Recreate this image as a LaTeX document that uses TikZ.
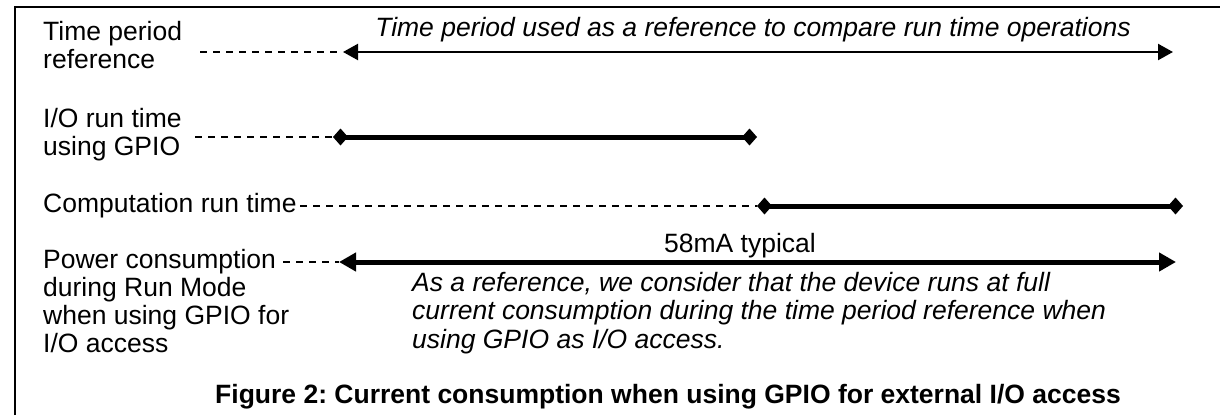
\documentclass[tikz,border=0pt]{standalone}
\usepackage{fontspec}
\setmainfont{Liberation Sans}
\usetikzlibrary{arrows.meta}
\frenchspacing

\tikzset{
  lbl/.style={anchor=west, align=left, inner sep=0pt,
    font=\fontsize{26.5}{28.2}\selectfont},
  note/.style={lbl, font=\fontsize{26.5}{28.2}\selectfont\itshape},
  guide/.style={line width=1.3pt, dash pattern=on 7pt off 6pt},
  span/.style={line width=2.2pt,
    {Triangle[length=15pt,width=16pt]}-{Triangle[length=15pt,width=16pt]}},
  runbar/.style={line width=5pt,
    {Diamond[length=15pt,width=17pt]}-{Diamond[length=15pt,width=17pt]}},
  powbar/.style={line width=5pt,
    {Triangle[length=17pt,width=18pt]}-{Triangle[length=17pt,width=18pt]}}
}

\begin{document}
\begin{tikzpicture}[x=1pt,y=-1pt]
\useasboundingbox (0,0) rectangle (1220,415);
% frame (top and left only)
\draw[line width=2pt] (15,415) -- (15,7) -- (1220,7);

% row labels
\node[lbl] (tp) at (43,45) {Time period\\reference};
\node[lbl] (io) at (43,135) {I/O run time\\using GPIO};
\node[lbl] (cr) at (43,206) {Computation run time};
\node[lbl] (pw) at (43,301) {Power consumption\\during Run Mode\\when using GPIO for\\I/O access};

% end points of the bars
\coordinate (tpA) at (200,52);
\coordinate (tpB) at (343,52);
\coordinate (tpC) at (1173,52);
\coordinate (ioA) at (195,137);
\coordinate (ioB) at (333,137);
\coordinate (ioC) at (757,137);
\coordinate (crA) at (300,206);
\coordinate (crB) at (757,206);
\coordinate (crC) at (1183,206);
\coordinate (pwA) at (283,262);
\coordinate (pwB) at (339,262);
\coordinate (pwC) at (1176,262);

% time period reference
\draw[guide] (tpA) -- (tpB);
\draw[span] (tpB) -- (tpC);
\node[note, anchor=center] (tptxt) at (753,30)
  {Time period used as a reference to compare run time operations};

% I/O and computation
\draw[guide] (ioA) -- (ioB);
\draw[runbar] (ioB) -- (ioC);
\draw[guide] (crA) -- (crB);
\draw[runbar] (crB) -- (crC);

% power consumption
\draw[guide] (pwA) -- (pwB);
\draw[powbar] (pwB) -- (pwC);
\node[lbl, anchor=center] (pwval) at (740,246) {58mA typical};
\node[note] (pwnote) at (412,313)
  {As a reference, we consider that the device runs at full\\
   current consumption during the time period reference when\\
   using GPIO as I/O access.};

% caption
\node[lbl, anchor=center, font=\fontsize{26.5}{28.2}\selectfont\bfseries]
  (cap) at (668,397)
  {Figure 2: Current consumption when using GPIO for external I/O access};
\end{tikzpicture}
\end{document}
